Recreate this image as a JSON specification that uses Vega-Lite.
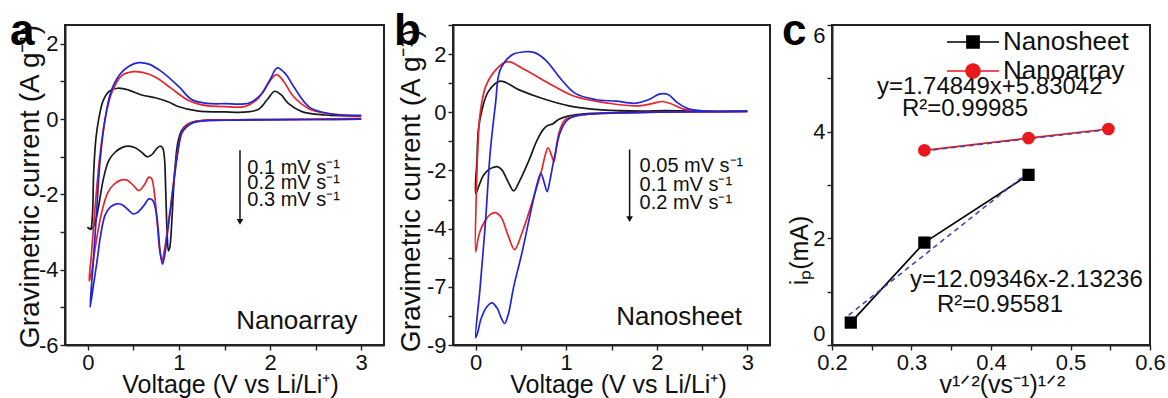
{
"$schema":"https://vega.github.io/schema/vega-lite/v6.json",
"padding":{"left":8,"top":8,"right":0,"bottom":0},
"config":{
 "font":"Liberation Sans",
 "view":{"stroke":"#222222","strokeWidth":2},
 "axis":{"grid":false,"domain":true,"labelFont":"Liberation Sans","labelFontSize":22,"labelColor":"#111","titleFont":"Liberation Sans","titleFontSize":25,"titleFontWeight":"normal","titleColor":"#111","domainColor":"#222222","domainWidth":2,"tickColor":"#222222","tickWidth":1.4,"tickSize":5,"labelPadding":2,"labelOverlap":false,"labelBound":false},
 "text":{"font":"Liberation Sans","color":"#111"}
},
"datasets":{
 "cvA":[
  {"s":"k","o":1,"x":3.0,"y":0.0},{"s":"k","o":2,"x":2.5,"y":-0.01},{"s":"k","o":3,"x":2.0,"y":-0.01},{"s":"k","o":4,"x":1.5,"y":-0.02},{"s":"k","o":5,"x":1.25,"y":-0.04},{"s":"k","o":6,"x":1.15,"y":-0.08},{"s":"k","o":7,"x":1.08,"y":-0.16},{"s":"k","o":8,"x":1.03,"y":-0.3},{"s":"k","o":9,"x":0.99,"y":-0.6},{"s":"k","o":10,"x":0.96,"y":-1.2},{"s":"k","o":11,"x":0.94,"y":-1.9},{"s":"k","o":12,"x":0.92,"y":-2.8},{"s":"k","o":13,"x":0.9,"y":-3.4},{"s":"k","o":14,"x":0.885,"y":-3.5},{"s":"k","o":15,"x":0.87,"y":-3.0},{"s":"k","o":16,"x":0.855,"y":-1.9},{"s":"k","o":17,"x":0.84,"y":-1.0},{"s":"k","o":18,"x":0.82,"y":-0.76},{"s":"k","o":19,"x":0.79,"y":-0.72},{"s":"k","o":20,"x":0.75,"y":-0.8},{"s":"k","o":21,"x":0.7,"y":-0.95},{"s":"k","o":22,"x":0.65,"y":-1.0},{"s":"k","o":23,"x":0.6,"y":-0.9},{"s":"k","o":24,"x":0.52,"y":-0.76},{"s":"k","o":25,"x":0.45,"y":-0.72},{"s":"k","o":26,"x":0.38,"y":-0.75},{"s":"k","o":27,"x":0.3,"y":-0.88},{"s":"k","o":28,"x":0.23,"y":-1.1},{"s":"k","o":29,"x":0.17,"y":-1.6},{"s":"k","o":30,"x":0.12,"y":-2.3},{"s":"k","o":31,"x":0.08,"y":-2.75},{"s":"k","o":32,"x":0.04,"y":-2.92},{"s":"k","o":33,"x":0.0,"y":-2.88},{"s":"k","o":34,"x":0.03,"y":-2.92},{"s":"k","o":35,"x":0.05,"y":-2.6},{"s":"k","o":36,"x":0.065,"y":-1.4},{"s":"k","o":37,"x":0.09,"y":-0.5},{"s":"k","o":38,"x":0.12,"y":0.0},{"s":"k","o":39,"x":0.17,"y":0.5},{"s":"k","o":40,"x":0.24,"y":0.75},{"s":"k","o":41,"x":0.33,"y":0.82},{"s":"k","o":42,"x":0.45,"y":0.77},{"s":"k","o":43,"x":0.59,"y":0.64},{"s":"k","o":44,"x":0.75,"y":0.56},{"s":"k","o":45,"x":0.88,"y":0.46},{"s":"k","o":46,"x":1.0,"y":0.33},{"s":"k","o":47,"x":1.2,"y":0.22},{"s":"k","o":48,"x":1.5,"y":0.19},{"s":"k","o":49,"x":1.75,"y":0.19},{"s":"k","o":50,"x":1.88,"y":0.27},{"s":"k","o":51,"x":1.97,"y":0.52},{"s":"k","o":52,"x":2.05,"y":0.74},{"s":"k","o":53,"x":2.12,"y":0.65},{"s":"k","o":54,"x":2.2,"y":0.42},{"s":"k","o":55,"x":2.35,"y":0.2},{"s":"k","o":56,"x":2.6,"y":0.11},{"s":"k","o":57,"x":3.0,"y":0.08},
  {"s":"r","o":1,"x":3.0,"y":0.02},{"s":"r","o":2,"x":2.5,"y":0.0},{"s":"r","o":3,"x":2.0,"y":-0.01},{"s":"r","o":4,"x":1.5,"y":-0.02},{"s":"r","o":5,"x":1.25,"y":-0.04},{"s":"r","o":6,"x":1.15,"y":-0.08},{"s":"r","o":7,"x":1.08,"y":-0.18},{"s":"r","o":8,"x":1.03,"y":-0.35},{"s":"r","o":9,"x":0.99,"y":-0.8},{"s":"r","o":10,"x":0.95,"y":-1.5},{"s":"r","o":11,"x":0.91,"y":-2.3},{"s":"r","o":12,"x":0.87,"y":-3.0},{"s":"r","o":13,"x":0.84,"y":-3.5},{"s":"r","o":14,"x":0.815,"y":-3.75},{"s":"r","o":15,"x":0.79,"y":-3.5},{"s":"r","o":16,"x":0.765,"y":-2.85},{"s":"r","o":17,"x":0.73,"y":-1.95},{"s":"r","o":18,"x":0.7,"y":-1.58},{"s":"r","o":19,"x":0.67,"y":-1.54},{"s":"r","o":20,"x":0.62,"y":-1.75},{"s":"r","o":21,"x":0.56,"y":-1.9},{"s":"r","o":22,"x":0.5,"y":-1.76},{"s":"r","o":23,"x":0.43,"y":-1.62},{"s":"r","o":24,"x":0.36,"y":-1.62},{"s":"r","o":25,"x":0.28,"y":-1.75},{"s":"r","o":26,"x":0.22,"y":-1.95},{"s":"r","o":27,"x":0.16,"y":-2.4},{"s":"r","o":28,"x":0.11,"y":-3.0},{"s":"r","o":29,"x":0.07,"y":-3.6},{"s":"r","o":30,"x":0.04,"y":-4.1},{"s":"r","o":31,"x":0.015,"y":-4.3},{"s":"r","o":32,"x":0.04,"y":-3.6},{"s":"r","o":33,"x":0.08,"y":-2.34},{"s":"r","o":34,"x":0.135,"y":-0.92},{"s":"r","o":35,"x":0.19,"y":0.0},{"s":"r","o":36,"x":0.26,"y":0.68},{"s":"r","o":37,"x":0.37,"y":1.15},{"s":"r","o":38,"x":0.5,"y":1.26},{"s":"r","o":39,"x":0.6,"y":1.24},{"s":"r","o":40,"x":0.74,"y":1.12},{"s":"r","o":41,"x":0.92,"y":0.81},{"s":"r","o":42,"x":1.1,"y":0.5},{"s":"r","o":43,"x":1.25,"y":0.38},{"s":"r","o":44,"x":1.5,"y":0.33},{"s":"r","o":45,"x":1.73,"y":0.34},{"s":"r","o":46,"x":1.87,"y":0.55},{"s":"r","o":47,"x":1.98,"y":0.95},{"s":"r","o":48,"x":2.07,"y":1.18},{"s":"r","o":49,"x":2.15,"y":1.0},{"s":"r","o":50,"x":2.25,"y":0.62},{"s":"r","o":51,"x":2.43,"y":0.27},{"s":"r","o":52,"x":2.64,"y":0.15},{"s":"r","o":53,"x":3.0,"y":0.08},
  {"s":"b","o":1,"x":3.0,"y":0.0},{"s":"b","o":2,"x":2.5,"y":-0.01},{"s":"b","o":3,"x":2.0,"y":-0.02},{"s":"b","o":4,"x":1.5,"y":-0.03},{"s":"b","o":5,"x":1.25,"y":-0.05},{"s":"b","o":6,"x":1.15,"y":-0.1},{"s":"b","o":7,"x":1.08,"y":-0.22},{"s":"b","o":8,"x":1.03,"y":-0.38},{"s":"b","o":9,"x":0.99,"y":-0.85},{"s":"b","o":10,"x":0.95,"y":-1.55},{"s":"b","o":11,"x":0.91,"y":-2.35},{"s":"b","o":12,"x":0.87,"y":-3.1},{"s":"b","o":13,"x":0.845,"y":-3.6},{"s":"b","o":14,"x":0.82,"y":-3.85},{"s":"b","o":15,"x":0.795,"y":-3.55},{"s":"b","o":16,"x":0.775,"y":-3.0},{"s":"b","o":17,"x":0.745,"y":-2.4},{"s":"b","o":18,"x":0.71,"y":-2.15},{"s":"b","o":19,"x":0.67,"y":-2.12},{"s":"b","o":20,"x":0.62,"y":-2.28},{"s":"b","o":21,"x":0.55,"y":-2.47},{"s":"b","o":22,"x":0.5,"y":-2.52},{"s":"b","o":23,"x":0.44,"y":-2.4},{"s":"b","o":24,"x":0.38,"y":-2.28},{"s":"b","o":25,"x":0.32,"y":-2.25},{"s":"b","o":26,"x":0.25,"y":-2.33},{"s":"b","o":27,"x":0.19,"y":-2.55},{"s":"b","o":28,"x":0.14,"y":-3.1},{"s":"b","o":29,"x":0.1,"y":-3.8},{"s":"b","o":30,"x":0.06,"y":-4.45},{"s":"b","o":31,"x":0.025,"y":-5.0},{"s":"b","o":32,"x":0.06,"y":-3.8},{"s":"b","o":33,"x":0.1,"y":-2.34},{"s":"b","o":34,"x":0.135,"y":-1.1},{"s":"b","o":35,"x":0.19,"y":0.0},{"s":"b","o":36,"x":0.26,"y":0.77},{"s":"b","o":37,"x":0.36,"y":1.21},{"s":"b","o":38,"x":0.46,"y":1.42},{"s":"b","o":39,"x":0.56,"y":1.5},{"s":"b","o":40,"x":0.67,"y":1.46},{"s":"b","o":41,"x":0.81,"y":1.26},{"s":"b","o":42,"x":1.0,"y":0.86},{"s":"b","o":43,"x":1.14,"y":0.52},{"s":"b","o":44,"x":1.3,"y":0.42},{"s":"b","o":45,"x":1.5,"y":0.41},{"s":"b","o":46,"x":1.77,"y":0.43},{"s":"b","o":47,"x":1.91,"y":0.68},{"s":"b","o":48,"x":2.0,"y":1.05},{"s":"b","o":49,"x":2.08,"y":1.36},{"s":"b","o":50,"x":2.17,"y":1.2},{"s":"b","o":51,"x":2.26,"y":0.86},{"s":"b","o":52,"x":2.43,"y":0.32},{"s":"b","o":53,"x":2.64,"y":0.15},{"s":"b","o":54,"x":3.0,"y":0.1}
 ],
 "cvB":[
  {"s":"k","o":1,"x":3.0,"y":0.03},{"s":"k","o":2,"x":2.5,"y":0.02},{"s":"k","o":3,"x":2.0,"y":0.01},{"s":"k","o":4,"x":1.5,"y":-0.02},{"s":"k","o":5,"x":1.2,"y":-0.05},{"s":"k","o":6,"x":1.02,"y":-0.13},{"s":"k","o":7,"x":0.92,"y":-0.24},{"s":"k","o":8,"x":0.85,"y":-0.4},{"s":"k","o":9,"x":0.8,"y":-0.45},{"s":"k","o":10,"x":0.75,"y":-0.58},{"s":"k","o":11,"x":0.68,"y":-0.95},{"s":"k","o":12,"x":0.59,"y":-1.64},{"s":"k","o":13,"x":0.49,"y":-2.33},{"s":"k","o":14,"x":0.42,"y":-2.7},{"s":"k","o":15,"x":0.36,"y":-2.4},{"s":"k","o":16,"x":0.29,"y":-1.98},{"s":"k","o":17,"x":0.24,"y":-1.87},{"s":"k","o":18,"x":0.19,"y":-1.9},{"s":"k","o":19,"x":0.14,"y":-1.98},{"s":"k","o":20,"x":0.08,"y":-2.2},{"s":"k","o":21,"x":0.04,"y":-2.5},{"s":"k","o":22,"x":0.0,"y":-2.79},{"s":"k","o":23,"x":0.015,"y":-1.64},{"s":"k","o":24,"x":0.03,"y":-0.61},{"s":"k","o":25,"x":0.07,"y":0.08},{"s":"k","o":26,"x":0.14,"y":0.71},{"s":"k","o":27,"x":0.27,"y":1.07},{"s":"k","o":28,"x":0.48,"y":0.77},{"s":"k","o":29,"x":0.73,"y":0.48},{"s":"k","o":30,"x":1.03,"y":0.22},{"s":"k","o":31,"x":1.39,"y":0.08},{"s":"k","o":32,"x":1.84,"y":0.04},{"s":"k","o":33,"x":2.1,"y":0.06},{"s":"k","o":34,"x":2.5,"y":0.03},{"s":"k","o":35,"x":3.0,"y":0.03},
  {"s":"r","o":1,"x":3.0,"y":0.03},{"s":"r","o":2,"x":2.5,"y":0.02},{"s":"r","o":3,"x":2.0,"y":0.0},{"s":"r","o":4,"x":1.5,"y":-0.03},{"s":"r","o":5,"x":1.2,"y":-0.08},{"s":"r","o":6,"x":1.1,"y":-0.13},{"s":"r","o":7,"x":0.99,"y":-0.25},{"s":"r","o":8,"x":0.93,"y":-0.6},{"s":"r","o":9,"x":0.89,"y":-1.2},{"s":"r","o":10,"x":0.865,"y":-1.7},{"s":"r","o":11,"x":0.84,"y":-1.5},{"s":"r","o":12,"x":0.8,"y":-1.22},{"s":"r","o":13,"x":0.77,"y":-1.45},{"s":"r","o":14,"x":0.73,"y":-1.98},{"s":"r","o":15,"x":0.62,"y":-3.13},{"s":"r","o":16,"x":0.51,"y":-4.16},{"s":"r","o":17,"x":0.43,"y":-4.72},{"s":"r","o":18,"x":0.36,"y":-4.25},{"s":"r","o":19,"x":0.28,"y":-3.6},{"s":"r","o":20,"x":0.22,"y":-3.45},{"s":"r","o":21,"x":0.16,"y":-3.52},{"s":"r","o":22,"x":0.11,"y":-3.7},{"s":"r","o":23,"x":0.06,"y":-4.0},{"s":"r","o":24,"x":0.03,"y":-4.3},{"s":"r","o":25,"x":0.0,"y":-4.8},{"s":"r","o":26,"x":0.01,"y":-2.56},{"s":"r","o":27,"x":0.03,"y":-0.84},{"s":"r","o":28,"x":0.05,"y":-0.04},{"s":"r","o":29,"x":0.11,"y":0.88},{"s":"r","o":30,"x":0.22,"y":1.45},{"s":"r","o":31,"x":0.35,"y":1.74},{"s":"r","o":32,"x":0.55,"y":1.45},{"s":"r","o":33,"x":0.84,"y":0.94},{"s":"r","o":34,"x":1.1,"y":0.54},{"s":"r","o":35,"x":1.47,"y":0.31},{"s":"r","o":36,"x":1.8,"y":0.22},{"s":"r","o":37,"x":1.95,"y":0.3},{"s":"r","o":38,"x":2.06,"y":0.37},{"s":"r","o":39,"x":2.15,"y":0.3},{"s":"r","o":40,"x":2.31,"y":0.1},{"s":"r","o":41,"x":2.5,"y":0.05},{"s":"r","o":42,"x":3.0,"y":0.03},
  {"s":"b","o":1,"x":3.0,"y":0.03},{"s":"b","o":2,"x":2.5,"y":0.02},{"s":"b","o":3,"x":2.0,"y":0.0},{"s":"b","o":4,"x":1.5,"y":-0.03},{"s":"b","o":5,"x":1.2,"y":-0.08},{"s":"b","o":6,"x":1.1,"y":-0.13},{"s":"b","o":7,"x":1.01,"y":-0.27},{"s":"b","o":8,"x":0.93,"y":-0.72},{"s":"b","o":9,"x":0.88,"y":-1.41},{"s":"b","o":10,"x":0.85,"y":-1.85},{"s":"b","o":11,"x":0.82,"y":-2.35},{"s":"b","o":12,"x":0.79,"y":-2.73},{"s":"b","o":13,"x":0.76,"y":-2.45},{"s":"b","o":14,"x":0.72,"y":-2.1},{"s":"b","o":15,"x":0.68,"y":-2.45},{"s":"b","o":16,"x":0.62,"y":-3.25},{"s":"b","o":17,"x":0.51,"y":-4.85},{"s":"b","o":18,"x":0.42,"y":-6.0},{"s":"b","o":19,"x":0.36,"y":-6.95},{"s":"b","o":20,"x":0.32,"y":-7.26},{"s":"b","o":21,"x":0.28,"y":-7.05},{"s":"b","o":22,"x":0.24,"y":-6.75},{"s":"b","o":23,"x":0.18,"y":-6.55},{"s":"b","o":24,"x":0.12,"y":-6.7},{"s":"b","o":25,"x":0.06,"y":-7.1},{"s":"b","o":26,"x":0.02,"y":-7.6},{"s":"b","o":27,"x":0.0,"y":-7.75},{"s":"b","o":28,"x":0.05,"y":-6.0},{"s":"b","o":29,"x":0.11,"y":-3.7},{"s":"b","o":30,"x":0.16,"y":-1.41},{"s":"b","o":31,"x":0.22,"y":0.31},{"s":"b","o":32,"x":0.27,"y":1.45},{"s":"b","o":33,"x":0.4,"y":1.97},{"s":"b","o":34,"x":0.55,"y":2.08},{"s":"b","o":35,"x":0.65,"y":2.05},{"s":"b","o":36,"x":0.77,"y":1.8},{"s":"b","o":37,"x":0.95,"y":1.11},{"s":"b","o":38,"x":1.1,"y":0.65},{"s":"b","o":39,"x":1.32,"y":0.44},{"s":"b","o":40,"x":1.55,"y":0.38},{"s":"b","o":41,"x":1.76,"y":0.31},{"s":"b","o":42,"x":1.9,"y":0.42},{"s":"b","o":43,"x":2.04,"y":0.63},{"s":"b","o":44,"x":2.13,"y":0.6},{"s":"b","o":45,"x":2.22,"y":0.35},{"s":"b","o":46,"x":2.35,"y":0.12},{"s":"b","o":47,"x":2.5,"y":0.05},{"s":"b","o":48,"x":3.0,"y":0.03}
 ],
 "arrA":[{"x":1.67,"y":-0.83,"y2":-2.73}],
 "headA":[{"x":1.67,"y":-2.73}],
 "txtA":[{"t":"0.1 mV s⁻¹","x":1.75,"y":-1.29},{"t":"0.2 mV s⁻¹","x":1.75,"y":-1.71},{"t":"0.3 mV s⁻¹","x":1.75,"y":-2.14}],
 "lblA":[{"t":"Nanoarray","x":2.96,"y":-5.58}],
 "letA":[{"t":"a","x":-0.854,"y":1.97}],
 "arrB":[{"x":1.7,"y":-1.28,"y2":-3.67}],
 "headB":[{"x":1.7,"y":-3.67}],
 "txtB":[{"t":"0.05 mV s⁻¹","x":1.81,"y":-1.86},{"t":"0.1 mV s⁻¹","x":1.81,"y":-2.5},{"t":"0.2 mV s⁻¹","x":1.81,"y":-3.12}],
 "lblB":[{"t":"Nanosheet","x":2.94,"y":-7.31}],
 "letB":[{"t":"b","x":-0.901,"y":2.31}],
 "ptsC":[{"sample":"Nanosheet","x":0.2236,"y":0.42},{"sample":"Nanosheet","x":0.3162,"y":1.92},{"sample":"Nanosheet","x":0.4472,"y":3.19},{"sample":"Nanoarray","x":0.3162,"y":3.65},{"sample":"Nanoarray","x":0.4472,"y":3.88},{"sample":"Nanoarray","x":0.5477,"y":4.05}],
 "fitC":[{"sample":"Nanosheet","x":0.221,"y":0.56},{"sample":"Nanosheet","x":0.443,"y":3.19},{"sample":"Nanoarray","x":0.3162,"y":3.64},{"sample":"Nanoarray","x":0.5477,"y":4.04}],
 "eqC":[{"t":"y=1.74849x+5.83042","x":0.2566,"y":4.83},{"t":"R²=0.99985","x":0.288,"y":4.42},{"t":"y=12.09346x-2.13236","x":0.298,"y":1.22},{"t":"R²=0.95581","x":0.332,"y":0.75}],
 "letC":[{"t":"c","x":0.137,"y":5.625}]
},
"resolve":{"scale":{"color":"independent","shape":"independent"}},
"bounds":"flush",
"spacing":69,
"hconcat":[
 {
  "width":319,"height":320,
  "encoding":{
   "x":{"field":"x","type":"quantitative","scale":{"domain":[-0.25,3.25],"nice":false,"zero":false},"axis":{"values":[0,0.5,1,1.5,2,2.5,3],"labelExpr":"datum.value % 1 != 0 ? '' : '' + datum.value","title":"Voltage (V vs Li/Li⁺)","titleY":47,"titleX":165,"titleBaseline":"alphabetic"}},
   "y":{"field":"y","type":"quantitative","scale":{"domain":[-6,2.5],"nice":false,"zero":false},"axis":{"values":[-6,-5,-4,-3,-2,-1,0,1,2],"labelExpr":"datum.value % 2 != 0 ? '' : datum.value < 0 ? '-' + (-datum.value) : '' + datum.value","title":"Gravimetric current (A g⁻¹)","titleX":-35,"titleY":161,"titleBaseline":"middle","titleFontSize":28}}
  },
  "layer":[
   {"data":{"name":"cvA"},"mark":{"type":"line","interpolate":"catmull-rom","strokeWidth":1.7},"encoding":{"color":{"field":"s","type":"nominal","scale":{"domain":["k","r","b"],"range":["#1a1a1a","#e4262b","#2323d8"]},"legend":null},"order":{"field":"o","type":"quantitative"}}},
   {"data":{"name":"arrA"},"mark":{"type":"rule","color":"#111","strokeWidth":1.5},"encoding":{"y2":{"field":"y2"}}},
   {"data":{"name":"headA"},"mark":{"type":"point","shape":"triangle-down","filled":true,"color":"#111","size":45,"opacity":1}},
   {"data":{"name":"txtA"},"mark":{"type":"text","align":"left","baseline":"middle","fontSize":20},"encoding":{"text":{"field":"t"}}},
   {"data":{"name":"lblA"},"mark":{"type":"text","align":"right","baseline":"alphabetic","fontSize":26},"encoding":{"text":{"field":"t"}}},
   {"data":{"name":"letA"},"mark":{"type":"text","align":"left","baseline":"alphabetic","fontSize":44,"fontWeight":"bold","color":"#000"},"encoding":{"text":{"field":"t"}}}
  ]
 },
 {
  "resolve":{"scale":{"color":"independent","shape":"independent"}},
  "bounds":"flush",
  "spacing":62,
  "hconcat":[
   {
    "width":317,"height":320,
    "encoding":{
     "x":{"field":"x","type":"quantitative","scale":{"domain":[-0.25,3.25],"nice":false,"zero":false},"axis":{"values":[0,0.5,1,1.5,2,2.5,3],"labelExpr":"datum.value % 1 != 0 ? '' : '' + datum.value","title":"Voltage (V vs Li/Li⁺)","titleY":47,"titleX":165,"titleBaseline":"alphabetic"}},
     "y":{"field":"y","type":"quantitative","scale":{"domain":[-8,3],"nice":false,"zero":false},"axis":{"values":[-8,-7,-6,-5,-4,-3,-2,-1,0,1,2,3],"labelExpr":"datum.value == -6 ? '-7' : datum.value == -8 ? '-9' : datum.value % 2 != 0 ? '' : datum.value < 0 ? '-' + (-datum.value) : '' + datum.value","title":"Gravimetric current (A g⁻¹)","titleX":-42,"titleY":165,"titleBaseline":"middle","titleFontSize":28}}
    },
    "layer":[
     {"data":{"name":"cvB"},"mark":{"type":"line","interpolate":"catmull-rom","strokeWidth":1.7},"encoding":{"color":{"field":"s","type":"nominal","scale":{"domain":["k","r","b"],"range":["#1a1a1a","#e4262b","#2323d8"]},"legend":null},"order":{"field":"o","type":"quantitative"}}},
     {"data":{"name":"arrB"},"mark":{"type":"rule","color":"#111","strokeWidth":1.5},"encoding":{"y2":{"field":"y2"}}},
     {"data":{"name":"headB"},"mark":{"type":"point","shape":"triangle-down","filled":true,"color":"#111","size":45,"opacity":1}},
     {"data":{"name":"txtB"},"mark":{"type":"text","align":"left","baseline":"middle","fontSize":20},"encoding":{"text":{"field":"t"}}},
     {"data":{"name":"lblB"},"mark":{"type":"text","align":"right","baseline":"alphabetic","fontSize":26},"encoding":{"text":{"field":"t"}}},
     {"data":{"name":"letB"},"mark":{"type":"text","align":"left","baseline":"alphabetic","fontSize":44,"fontWeight":"bold","color":"#000"},"encoding":{"text":{"field":"t"}}}
    ]
   },
   {
    "width":318,"height":320,
    "encoding":{
     "x":{"field":"x","type":"quantitative","scale":{"domain":[0.2,0.6],"nice":false,"zero":false},"axis":{"values":[0.2,0.25,0.3,0.35,0.4,0.45,0.5,0.55,0.6],"labelFlush":false,"labelExpr":"abs(datum.value*10 - round(datum.value*10)) > 0.01 ? '' : format(datum.value, '.1f')","title":"v¹ᐟ²(vs⁻¹)¹ᐟ²","titleY":47,"titleX":170,"titleBaseline":"alphabetic"}},
     "y":{"field":"y","type":"quantitative","scale":{"domain":[0,6],"nice":false,"zero":false},"axis":{"values":[0,1,2,3,4,5,6],"labelExpr":"datum.value % 2 != 0 ? '' : '' + datum.value","labelFlush":true,"title":"iₚ(mA)","titleX":-33,"titleY":225,"titleBaseline":"middle"}}
    },
    "layer":[
     {"data":{"name":"ptsC"},"mark":{"type":"line","strokeWidth":1.7},"encoding":{"stroke":{"field":"sample","type":"nominal","scale":{"domain":["Nanosheet","Nanoarray"],"range":["#000000","#e8191c"]},"legend":null}}},
     {"data":{"name":"fitC"},"mark":{"type":"line","strokeDash":[5,4],"strokeWidth":1.6,"color":"#4646b4"},"encoding":{"detail":{"field":"sample","type":"nominal"}}},
     {"data":{"name":"ptsC"},"transform":[{"filter":"datum.sample == 'Nanosheet'"}],"mark":{"type":"point","shape":"square","filled":true,"size":150,"opacity":1,"color":"#000000"}},
     {"data":{"name":"ptsC"},"transform":[{"filter":"datum.sample == 'Nanoarray'"}],"mark":{"type":"point","shape":"circle","filled":true,"size":160,"opacity":1,"color":"#e8191c"}},
     {"data":{"name":"ptsC"},"mark":{"type":"point","filled":false,"size":150,"opacity":0,"strokeWidth":1.5},
      "encoding":{
       "color":{"field":"sample","type":"nominal","scale":{"domain":["Nanosheet","Nanoarray"],"range":["#000000","#e8191c"]},"legend":{"orient":"none","legendX":128,"legendY":4,"title":null,"padding":0,"labelFont":"Liberation Sans","labelFontSize":26,"labelColor":"#111","labelOffset":17,"rowPadding":3,"symbolSize":150,"symbolStrokeWidth":1.5,"symbolOpacity":1}},
       "shape":{"field":"sample","type":"nominal","scale":{"domain":["Nanosheet","Nanoarray"],"range":["M-4.25,0H4.25M-1,-1H1V1H-1ZM-1,-0.8H1M-1,-0.6H1M-1,-0.4H1M-1,-0.2H1M-1,0.2H1M-1,0.4H1M-1,0.6H1M-1,0.8H1","M-4.25,0H4.25M-1.15,0A1.15,1.15 0 1,0 1.15,0A1.15,1.15 0 1,0 -1.15,0M-1.132,-0.2H1.132M-1.132,0.2H1.132M-1.078,-0.4H1.078M-1.078,0.4H1.078M-0.981,-0.6H0.981M-0.981,0.6H0.981M-0.826,-0.8H0.826M-0.826,0.8H0.826M-0.568,-1H0.568M-0.568,1H0.568M-0.335,-1.1H0.335M-0.335,1.1H0.335"]},"legend":null}
      }},
     {"data":{"name":"eqC"},"mark":{"type":"text","align":"left","baseline":"middle","fontSize":24},"encoding":{"text":{"field":"t"}}},
     {"data":{"name":"letC"},"mark":{"type":"text","align":"left","baseline":"alphabetic","fontSize":44,"fontWeight":"bold","color":"#000"},"encoding":{"text":{"field":"t"}}}
    ]
   }
  ]
 }
]
}
